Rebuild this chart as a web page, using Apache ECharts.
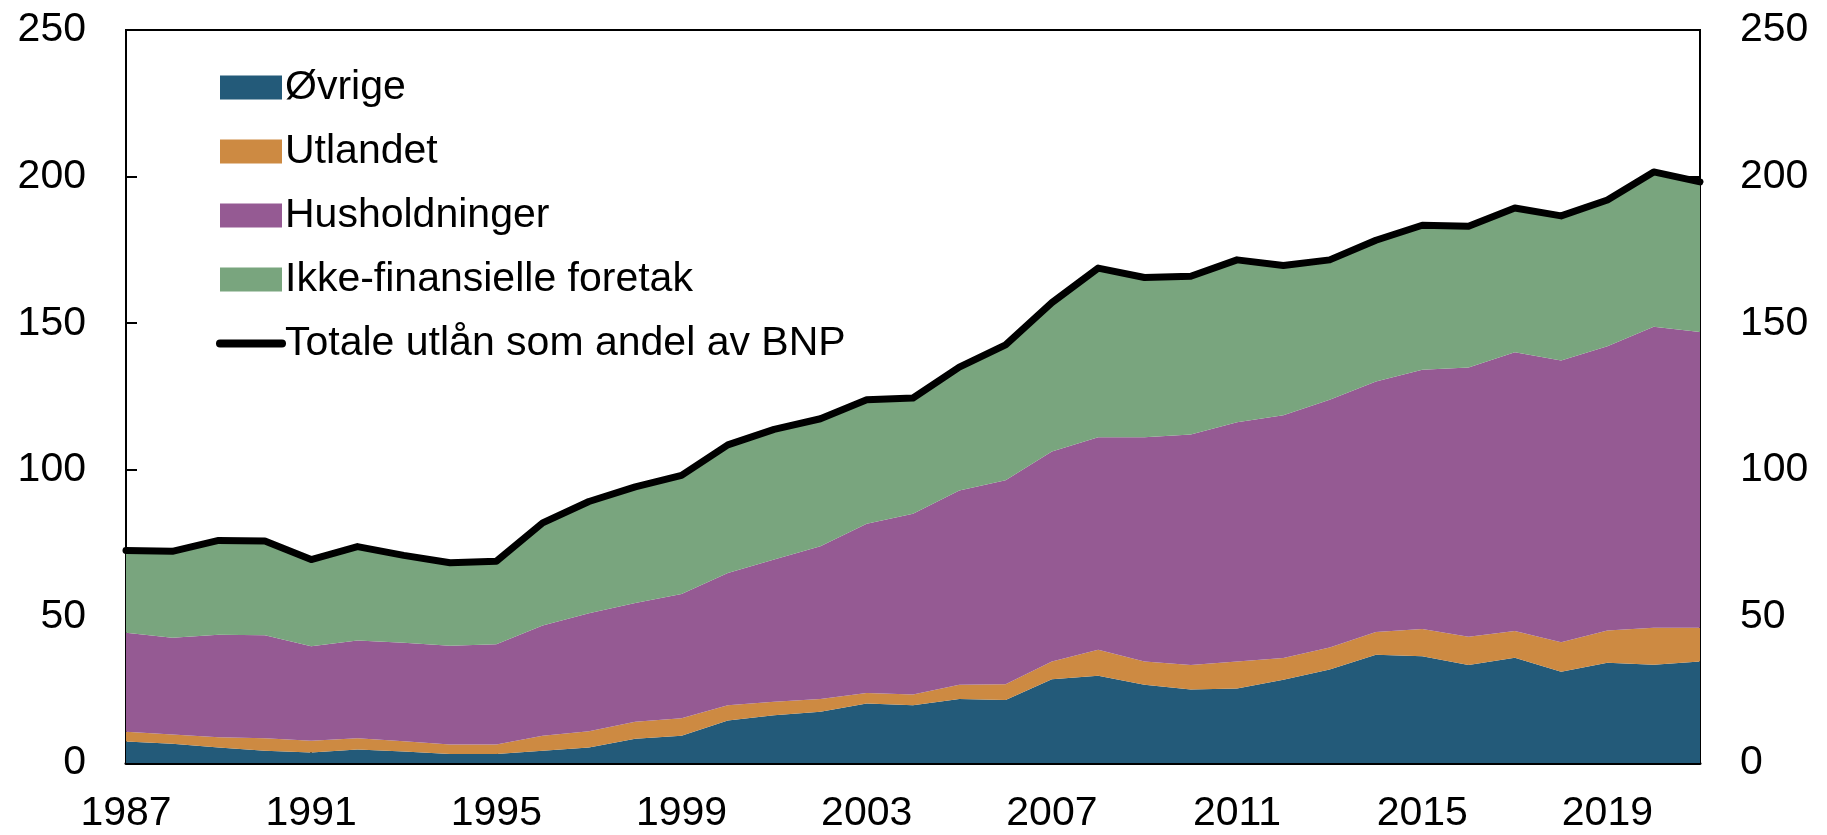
<!DOCTYPE html>
<html>
<head>
<meta charset="utf-8">
<title>Utlån som andel av BNP</title>
<script src="https://cdn.jsdelivr.net/npm/echarts@6/dist/echarts.min.js"></script>
<style>
    html, body {margin: 0; padding: 0; background: #fff;}
    #chart {width: 1827px; height: 835px;}
</style>
</head>
<body>
<div id="chart"></div>
<script>
	// årstall
	var years = ['1987', '1988', '1989', '1990', '1991', '1992', '1993', '1994', '1995', '1996',
		'1997', '1998', '1999', '2000', '2001', '2002', '2003', '2004', '2005', '2006',
		'2007', '2008', '2009', '2010', '2011', '2012', '2013', '2014', '2015', '2016',
		'2017', '2018', '2019', '2020', '2021'];

	// komponenter (stablet), prosent av BNP
	var ovrige = [7.3, 6.6, 5.3, 4.2, 3.6, 4.6, 3.9, 3.1, 3.1, 4.2,
		5.3, 8.3, 9.3, 14.5, 16.3, 17.5, 20.3, 19.7, 21.8, 21.5,
		28.6, 29.8, 26.7, 25.1, 25.4, 28.4, 31.9, 36.9, 36.4, 33.4,
		35.9, 31.1, 34.2, 33.5, 34.6];
	var utlandet = [3.4, 3.1, 3.5, 4.2, 4.0, 3.8, 3.5, 3.2, 3.2, 5.1,
		5.5, 5.8, 6.0, 5.2, 4.6, 4.3, 3.6, 3.7, 4.9, 5.4,
		6.0, 8.8, 7.9, 8.3, 9.2, 7.4, 7.5, 7.8, 9.3, 9.7,
		9.1, 10.1, 11.0, 12.6, 11.5];
	var husholdninger = [33.7, 33.0, 34.9, 35.2, 32.2, 33.4, 33.6, 33.7, 34.2, 37.6,
		40.3, 40.5, 42.3, 45.1, 48.5, 52.1, 57.7, 61.6, 66.2, 69.5,
		71.6, 72.5, 76.5, 78.6, 81.6, 82.8, 84.5, 85.4, 88.4, 91.8,
		95.1, 96.1, 96.9, 102.7, 100.9];
	var foretak = [28.1, 29.5, 32.2, 32.1, 29.6, 32.0, 29.8, 28.3, 28.3, 35.0,
		38.1, 39.6, 40.5, 43.7, 44.4, 43.5, 42.3, 39.5, 42.1, 46.2,
		50.8, 57.7, 54.5, 54.0, 55.4, 51.1, 47.7, 48.2, 49.3, 48.2,
		49.2, 49.3, 49.9, 52.8, 51.2];
	// totale utlån
	var totalt = [72.5, 72.2, 75.9, 75.7, 69.4, 73.8, 70.8, 68.3, 68.8, 81.9,
		89.2, 94.2, 98.1, 108.5, 113.8, 117.4, 123.9, 124.5, 135.0, 142.6,
		157.0, 168.8, 165.6, 166.0, 171.6, 169.7, 171.6, 178.3, 183.4, 183.1,
		189.3, 186.6, 192.0, 201.6, 198.2];

	var yTicks = [0, 50, 100, 150, 200, 250];

	var fontFam = '"Liberation Sans", Arial, sans-serif';
	var chart = echarts.init(document.getElementById('chart'));

	function areaSerie(name, data, color) {
		return {
			name: name,
			type: 'line',
			stack: 'sum',
			data: data,
			symbol: 'none',
			smooth: false,
			lineStyle: {width: 0},
			itemStyle: {color: color},
			areaStyle: {color: color, opacity: 1},
			emphasis: {disabled: true},
			z: 2
		};
	}

	function yAxis(pos) {
		return {
			type: 'value',
			position: pos,
			min: yTicks[0],
			max: yTicks[yTicks.length - 1],
			interval: 50,
			axisLine: {show: true, lineStyle: {color: '#000', width: 2}},
			axisTick: {show: true, inside: true, length: 11, lineStyle: {color: '#000', width: 2}},
			axisLabel: {color: '#000', fontSize: 41, fontFamily: fontFam, margin: 40},
			splitLine: {show: false}
		};
	}

	var option = {
		animation: false,
		backgroundColor: '#fff',
		grid: {
			left: 126,
			right: 127,
			top: 30,
			bottom: 72,
			show: true,
			borderColor: '#000',
			borderWidth: 2,
			containLabel: false
		},
		legend: {
			orient: 'vertical',
			left: 211,
			top: 62,
			itemWidth: 62,
			itemHeight: 24,
			itemGap: 23,
			textStyle: {color: '#000', fontSize: 41, fontFamily: fontFam, padding: [0, 0, 0, -2]},
			data: [
				{name: 'Øvrige', icon: 'rect'},
				{name: 'Utlandet', icon: 'rect'},
				{name: 'Husholdninger', icon: 'rect'},
				{name: 'Ikke-finansielle foretak', icon: 'rect'},
				{
					name: 'Totale utlån som andel av BNP',
					itemStyle: {opacity: 0},
					lineStyle: {width: 8, cap: 'round', color: '#000'}
				}
			]
		},
		xAxis: {
			type: 'category',
			data: years,
			boundaryGap: false,
			axisLine: {show: true, lineStyle: {color: '#000', width: 3}},
			axisTick: {show: true, inside: true, length: 12, interval: 3, lineStyle: {color: '#000', width: 2}},
			axisLabel: {color: '#000', fontSize: 41, fontFamily: fontFam, margin: 30, interval: 3},
			splitLine: {show: false}
		},
		yAxis: [yAxis('left'), yAxis('right')],
		series: [
			areaSerie('Øvrige', ovrige, '#235a79'),
			areaSerie('Utlandet', utlandet, '#cd8a42'),
			areaSerie('Husholdninger', husholdninger, '#955a93'),
			areaSerie('Ikke-finansielle foretak', foretak, '#79a57e'),
			{
				name: 'Totale utlån som andel av BNP',
				type: 'line',
				data: totalt,
				symbol: 'none',
				lineStyle: {color: '#000', width: 7, cap: 'round', join: 'round'},
				itemStyle: {color: '#000'},
				emphasis: {disabled: true},
				z: 5
			}
		]
	};
	chart.setOption(option);
</script>
</body>
</html>
